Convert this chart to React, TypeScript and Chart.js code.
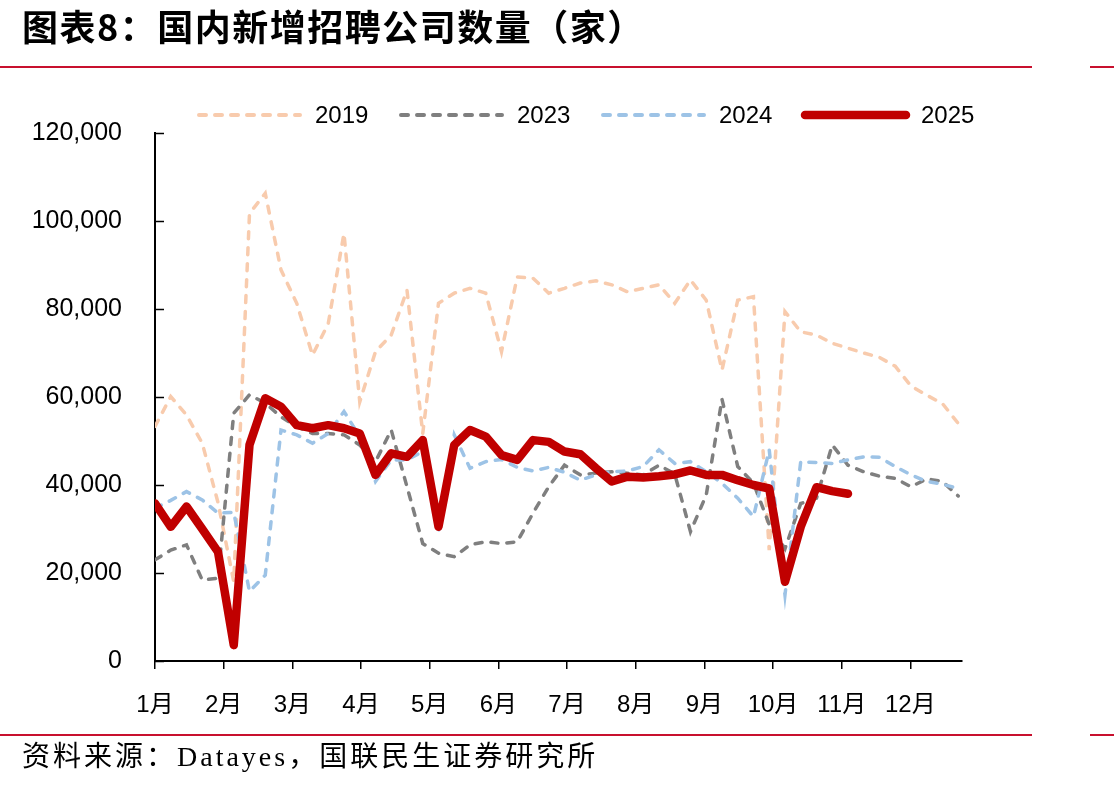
import React, { useEffect, useRef } from "react";
import { Chart, registerables } from "chart.js";

Chart.register(...registerables);

// Weekly counts of newly hiring companies, one value per week from early January
const series2019 = [
  53300, 60100, 55900, 49500, 36000, 18000, 101700, 106300, 88900, 81300,
  69500, 76700, 97200, 58900, 70300, 74100, 84300, 51700, 81300, 83600,
  84700, 83600, 70300, 87300, 87000, 83600, 84700, 85900, 86400, 85500,
  83900, 84700, 85500, 81300, 86600, 82000, 66100, 82000, 82800, 25200,
  79400, 74800, 74100, 72200, 71100, 70000, 69000, 67000, 62500, 60400,
  58500, 54000,
];
const series2023 = [
  23000, 25200, 26400, 18400, 18800, 56300, 60500, 58600, 55500, 53300,
  51700, 51700, 51400, 49100, 45300, 52500, 39600, 26700, 24500, 23700,
  26400, 27100, 26700, 27100, 33600, 39600, 44500, 42300, 42700, 43000,
  42700, 42300, 44500, 42500, 29400, 37700, 59500, 44200, 40400, 31000,
  25500, 35800, 37000, 49100, 44500, 43000, 42000, 41500, 39600, 41400,
  40800, 37500,
];
const series2024 = [
  34700, 36500, 38500, 36600, 33600, 33800, 15800, 19500, 52500, 51400,
  49500, 51700, 56700, 51000, 40800, 45700, 45700, 47600, 29400, 51400,
  43800, 45300, 45800, 44000, 43200, 44000, 42900, 41100, 42300, 43000,
  43200, 44200, 48000, 44900, 45300, 43000, 40400, 37000, 32800, 48000,
  15000, 45300, 45100, 44900, 45700, 46400, 46300, 44200, 42300, 40800,
  40200, 39200,
];
const series2025 = [
  35800, 30500, 35100, 30000, 24800, 3600, 49100, 59700, 57800, 53600,
  52900, 53600, 52900, 51700, 42300, 47200, 46400, 50200, 30500, 49100,
  52500, 51000, 46800, 45700, 50200, 49800, 47600, 47000, 43800, 40800,
  41900, 41700, 42000, 42400, 43300, 42300, 42300, 41100, 40000, 39200,
  18000, 30500, 39500, 38600, 38000,
];

const seriesNames = ["2019", "2023", "2024", "2025"];
const monthLabels = ["1月", "2月", "3月", "4月", "5月", "6月", "7月", "8月", "9月", "10月", "11月", "12月"];
const yTickValues = [0, 20000, 40000, 60000, 80000, 100000, 120000];

// Axis geometry in week units
const WEEKS_PER_MONTH_TICK = 4.36;
const X_MAX = 51.24;

const FONT_FAMILY = "'Liberation Sans', 'Noto Sans CJK SC', sans-serif";
const RULE_COLOR = "#C8102E";

const toPoints = (values: number[]) => values.map((v, i) => ({ x: i, y: v }));

// Inward tick marks on the value axis
const yInnerTicks = {
  id: "yInnerTicks",
  afterDraw(chart: any) {
    const y = chart.scales.y;
    const ctx = chart.ctx;
    ctx.save();
    ctx.strokeStyle = "#000";
    ctx.lineWidth = 1.5;
    y.ticks.forEach((t: any) => {
      const py = Math.round(y.getPixelForValue(t.value)) + 0.5;
      ctx.beginPath();
      ctx.moveTo(y.right, py);
      ctx.lineTo(y.right + 9, py);
      ctx.stroke();
    });
    ctx.restore();
  },
};

// Legend row above the plot, with line samples matching each series
const lineLegend = {
  id: "lineLegend",
  afterDraw(chart: any) {
    const ctx = chart.ctx;
    const startX = 196;
    const step = 202;
    const lineLen = 107;
    const cy = 115;
    ctx.save();
    chart.data.datasets.forEach((ds: any, i: number) => {
      const x0 = startX + i * step;
      ctx.beginPath();
      ctx.strokeStyle = ds.borderColor;
      ctx.lineWidth = ds.borderDash && ds.borderDash.length ? 4 : 8.5;
      ctx.lineCap = "round";
      ctx.setLineDash(ds.borderDash || []);
      ctx.moveTo(x0 + 3, cy);
      ctx.lineTo(x0 + lineLen - 3, cy);
      ctx.stroke();
      ctx.setLineDash([]);
      ctx.fillStyle = "#000";
      ctx.font = `24px ${FONT_FAMILY}`;
      ctx.textBaseline = "middle";
      ctx.textAlign = "left";
      ctx.fillText(ds.label, x0 + lineLen + 12, cy + 1);
    });
    ctx.restore();
  },
};

function HiringChart() {
  const ref = useRef<HTMLCanvasElement | null>(null);

  useEffect(() => {
    if (!ref.current) return;
    const dash = [7, 9];
    const chart = new Chart(ref.current, {
      type: "line",
      data: {
        datasets: [
          {
            label: seriesNames[0],
            data: toPoints(series2019),
            borderColor: "#F8CBAD",
            borderWidth: 3.5,
            borderDash: dash,
            borderCapStyle: "round",
            pointRadius: 0,
            order: 3,
          },
          {
            label: seriesNames[1],
            data: toPoints(series2023),
            borderColor: "#7F7F7F",
            borderWidth: 3.5,
            borderDash: dash,
            borderCapStyle: "round",
            pointRadius: 0,
            order: 2,
          },
          {
            label: seriesNames[2],
            data: toPoints(series2024),
            borderColor: "#9DC3E6",
            borderWidth: 3.5,
            borderDash: dash,
            borderCapStyle: "round",
            pointRadius: 0,
            order: 1,
          },
          {
            label: seriesNames[3],
            data: toPoints(series2025),
            borderColor: "#C00000",
            borderWidth: 8.5,
            borderCapStyle: "round",
            borderJoinStyle: "round",
            pointRadius: 0,
            order: 0,
          },
        ] as any,
      },
      options: {
        animation: false,
        responsive: false,
        devicePixelRatio: 1,
        layout: { padding: { top: 133, right: 152, bottom: 0, left: 0 } },
        plugins: {
          legend: { display: false },
          tooltip: { enabled: false },
        },
        scales: {
          x: {
            type: "linear",
            min: 0,
            max: X_MAX,
            afterBuildTicks: (scale: any) => {
              scale.ticks = monthLabels.map((_, k) => ({ value: k * WEEKS_PER_MONTH_TICK }));
            },
            afterFit: (scale: any) => {
              scale.height = 127;
            },
            grid: {
              display: true,
              drawOnChartArea: false,
              drawTicks: true,
              tickLength: 8,
              color: "#000",
              lineWidth: 1.5,
            },
            border: { display: true, color: "#000", width: 2 },
            ticks: {
              autoSkip: false,
              maxRotation: 0,
              padding: 22,
              color: "#000",
              font: { size: 24, family: FONT_FAMILY },
              callback: (_v: any, index: number) => monthLabels[index],
            },
          },
          y: {
            min: 0,
            max: 120000,
            afterBuildTicks: (scale: any) => {
              scale.ticks = yTickValues.map((v) => ({ value: v }));
            },
            afterFit: (scale: any) => {
              scale.width = 155;
            },
            grid: { display: false, drawTicks: false },
            border: { display: true, color: "#000", width: 2 },
            ticks: {
              padding: 33,
              color: "#000",
              font: { size: 25, family: FONT_FAMILY },
              callback: (v: any) => Number(v).toLocaleString("en-US"),
            },
          },
        },
      } as any,
      plugins: [yInnerTicks, lineLegend],
    });
    return () => chart.destroy();
  }, []);

  return (
    <canvas
      ref={ref}
      width={1114}
      height={788}
      style={{ position: "absolute", left: 0, top: 0, width: 1114, height: 788 }}
    />
  );
}

export default function App() {
  const rule = (top: number) => (
    <>
      <div style={{ position: "absolute", left: 0, top, width: 1032, height: 2, background: RULE_COLOR }} />
      <div style={{ position: "absolute", left: 1090, top, width: 24, height: 2, background: RULE_COLOR }} />
    </>
  );
  return (
    <div
      style={{
        position: "absolute",
        left: 0,
        top: 0,
        width: 1114,
        height: 788,
        background: "#fff",
        overflow: "hidden",
      }}
    >
      <HiringChart />
      <div
        style={{
          position: "absolute",
          left: 22,
          top: 6,
          fontFamily: "'Noto Sans CJK SC', sans-serif",
          fontWeight: 700,
          fontSize: 36,
          lineHeight: "38px",
          letterSpacing: 1.5,
          color: "#000",
          whiteSpace: "nowrap",
        }}
      >
        图表8：国内新增招聘公司数量（家）
      </div>
      {rule(66)}
      {rule(734)}
      <div
        style={{
          position: "absolute",
          left: 22,
          top: 741,
          fontFamily: "'Liberation Serif', 'Noto Sans CJK SC', serif",
          fontSize: 28,
          lineHeight: "32px",
          letterSpacing: 3,
          color: "#000",
          whiteSpace: "nowrap",
        }}
      >
        资料来源：Datayes，国联民生证券研究所
      </div>
    </div>
  );
}
